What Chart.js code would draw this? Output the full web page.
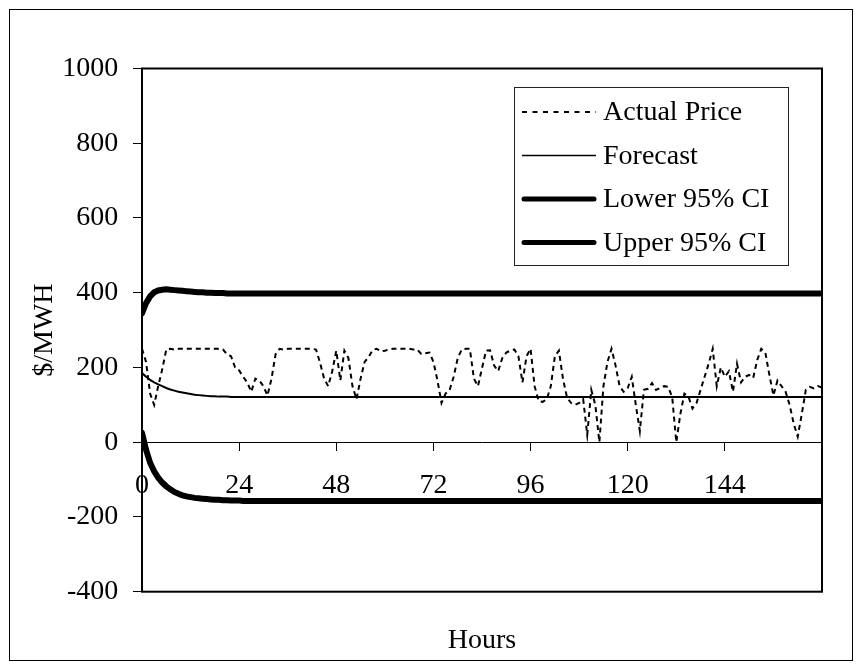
<!DOCTYPE html>
<html><head><meta charset="utf-8">
<script src="https://cdn.jsdelivr.net/npm/chart.js@4.4.0/dist/chart.umd.min.js"></script>
<style>html,body{margin:0;padding:0;background:#fff;}canvas{display:block;}</style>
</head><body>
<canvas id="c" width="862" height="670"></canvas>
<script>
const hours = Array.from({length: 169}, (_, i) => i);
const xTicks = [0, 24, 48, 72, 96, 120, 144];
const yTicks = [-400, -200, 0, 200, 400, 600, 800, 1000];
const seriesNames = ['Actual Price', 'Forecast', 'Lower 95% CI', 'Upper 95% CI'];

const actualPrice = [
250,215,130,100,150,195,248,250,248,250,250,250,
250,250,250,250,250,250,250,250,248,235,230,200,
192,175,160,135,170,165,150,125,170,235,250,248,
250,250,250,250,250,250,250,248,212,170,150,190,
245,165,245,225,150,115,170,215,228,247,250,243,
245,248,250,250,250,250,250,248,248,236,238,240,
215,165,105,130,140,175,225,248,250,250,170,150,
198,245,246,205,190,225,240,245,248,230,160,230,
250,150,110,108,115,150,230,245,170,120,105,100,
105,115,20,140,100,0,150,215,250,205,150,135,
145,175,100,30,140,143,158,140,145,150,148,120,
0,75,130,122,90,105,140,175,210,250,150,200,
175,190,135,210,160,175,180,172,220,250,240,180,
125,165,150,135,100,50,15,75,140,148,144,150,
146];

const forecast = [
185,175,167,160,155,150,145,141,138,135,133,131,
129,127,126,125,124,123,123,122,122,122,121,121,
121,121,121,121,121,121,121,121,121,121,121,121,
121,121,121,121,121,121,121,121,121,121,121,121,
121,121,121,121,121,121,121,121,121,121,121,121,
121,121,121,121,121,121,121,121,121,121,121,121,
121,121,121,121,121,121,121,121,121,121,121,121,
121,121,121,121,121,121,121,121,121,121,121,121,
121,121,121,121,121,121,121,121,121,121,121,121,
121,121,121,121,121,121,121,121,121,121,121,121,
121,121,121,121,121,121,121,121,121,121,121,121,
121,121,121,121,121,121,121,121,121,121,121,121,
121,121,121,121,121,121,121,121,121,121,121,121,
121,121,121,121,121,121,121,121,121,121,121,121,
121];

const lowerCI = [
25,-20,-55,-78,-95,-108,-118,-126,-133,-138,-142,-145,
-147,-149,-150,-151,-152,-153,-154,-154,-155,-155,-156,-156,
-156,-157,-157,-157,-157,-157,-157,-157,-157,-157,-157,-157,
-157,-157,-157,-157,-157,-157,-157,-157,-157,-157,-157,-157,
-157,-157,-157,-157,-157,-157,-157,-157,-157,-157,-157,-157,
-157,-157,-157,-157,-157,-157,-157,-157,-157,-157,-157,-157,
-157,-157,-157,-157,-157,-157,-157,-157,-157,-157,-157,-157,
-157,-157,-157,-157,-157,-157,-157,-157,-157,-157,-157,-157,
-157,-157,-157,-157,-157,-157,-157,-157,-157,-157,-157,-157,
-157,-157,-157,-157,-157,-157,-157,-157,-157,-157,-157,-157,
-157,-157,-157,-157,-157,-157,-157,-157,-157,-157,-157,-157,
-157,-157,-157,-157,-157,-157,-157,-157,-157,-157,-157,-157,
-157,-157,-157,-157,-157,-157,-157,-157,-157,-157,-157,-157,
-157,-157,-157,-157,-157,-157,-157,-157,-157,-157,-157,-157,
-157];

const upperCI = [
345,372,390,401,406,408,409,408,407,406,405,404,
403,402,401,401,400,400,399,399,399,398,398,398,
398,398,398,398,398,398,398,398,398,398,398,398,
398,398,398,398,398,398,398,398,398,398,398,398,
398,398,398,398,398,398,398,398,398,398,398,398,
398,398,398,398,398,398,398,398,398,398,398,398,
398,398,398,398,398,398,398,398,398,398,398,398,
398,398,398,398,398,398,398,398,398,398,398,398,
398,398,398,398,398,398,398,398,398,398,398,398,
398,398,398,398,398,398,398,398,398,398,398,398,
398,398,398,398,398,398,398,398,398,398,398,398,
398,398,398,398,398,398,398,398,398,398,398,398,
398,398,398,398,398,398,398,398,398,398,398,398,
398,398,398,398,398,398,398,398,398,398,398,398,
398];

const FONT = "'Liberation Serif', 'Times New Roman', serif";
Chart.defaults.font.family = FONT;
Chart.defaults.color = '#000';

const framePlugin = {
  id: 'frame',
  beforeDraw(chart) {
    const ctx = chart.ctx;
    ctx.save();
    ctx.fillStyle = '#fff';
    ctx.fillRect(0, 0, chart.width, chart.height);
    ctx.strokeStyle = '#000';
    ctx.lineWidth = 1;
    ctx.strokeRect(9.5, 9.5, 843, 651);
    ctx.restore();
  },
  afterDraw(chart) {
    const ctx = chart.ctx;
    const a = chart.chartArea;
    ctx.save();
    ctx.strokeStyle = '#000';
    ctx.lineWidth = 2;
    ctx.strokeRect(a.left, a.top, a.right - a.left, a.bottom - a.top);
    // legend
    const bx = 514.5, by = 87.5, bw = 274, bh = 178;
    ctx.fillStyle = '#fff';
    ctx.fillRect(bx, by, bw, bh);
    ctx.lineWidth = 1;
    ctx.strokeStyle = '#222';
    ctx.strokeRect(bx, by, bw, bh);
    const rows = [113, 156.5, 200, 243.5];
    chart.data.datasets.forEach((ds, i) => {
      const y = rows[i];
      ctx.save();
      ctx.strokeStyle = ds.borderColor;
      ctx.lineWidth = ds.legendWidth;
      ctx.setLineDash(ds.legendDash || []);
      ctx.lineCap = ds.legendWidth > 3 ? 'round' : 'butt';
      ctx.beginPath();
      const x0 = ds.legendWidth > 3 ? 524 : 522;
      const x1 = ds.legendWidth > 3 ? 594 : 596;
      ctx.moveTo(x0, y - 1);
      ctx.lineTo(x1, y - 1);
      ctx.stroke();
      ctx.restore();
      ctx.fillStyle = '#000';
      ctx.font = "28px " + FONT;
      ctx.textBaseline = 'middle';
      ctx.textAlign = 'left';
      ctx.fillText(ds.label, 603, y);
    });
    ctx.restore();
  }
};

new Chart(document.getElementById('c'), {
  type: 'line',
  data: {
    labels: hours,
    datasets: [
      { label: seriesNames[0], data: actualPrice, borderColor: '#000', borderWidth: 2, borderDash: [5, 4], legendDash: [5, 5.5], legendWidth: 2, pointRadius: 0, tension: 0, fill: false },
      { label: seriesNames[1], data: forecast, borderColor: '#000', borderWidth: 2, legendWidth: 1.5, pointRadius: 0, tension: 0, fill: false },
      { label: seriesNames[2], data: lowerCI, borderColor: '#000', borderWidth: 6, legendWidth: 5, pointRadius: 0, tension: 0, fill: false, borderCapStyle: 'round' },
      { label: seriesNames[3], data: upperCI, borderColor: '#000', borderWidth: 6, legendWidth: 5, pointRadius: 0, tension: 0, fill: false, borderCapStyle: 'round' }
    ]
  },
  options: {
    responsive: false,
    animation: false,
    devicePixelRatio: 1,
    layout: { padding: { left: 0, right: 40, top: 68.5, bottom: 0 } },
    plugins: { legend: { display: false }, tooltip: { enabled: false } },
    scales: {
      x: {
        type: 'linear', position: 'bottom', min: 0, max: 168,
        grid: { display: false }, border: { display: false },
        ticks: { display: false },
        title: { display: true, text: 'Hours', color: '#000', font: { size: 28, family: FONT }, padding: { top: 0, bottom: 12.7 } },
        afterFit(s) { s.height = 78.3; }
      },
      x2: {
        type: 'linear', position: { y: 0 }, min: 0, max: 168,
        afterBuildTicks(s) { s.ticks = xTicks.concat([168]).map(v => ({ value: v })); },
        ticks: { color: '#000', font: { size: 28, family: FONT }, padding: 18.5, maxRotation: 0, autoSkip: false,
          callback: (v) => (xTicks.includes(v) ? String(v) : '') },
        grid: { drawOnChartArea: false, drawTicks: true, tickLength: 8, color: '#000', lineWidth: 1 },
        border: { display: true, color: '#000', width: 1 }
      },
      y: {
        type: 'linear', position: 'left', min: -400, max: 1000,
        afterBuildTicks(s) { s.ticks = yTicks.map(v => ({ value: v })); },
        ticks: { color: '#000', font: { size: 28, family: FONT }, padding: 14.7, callback: (v) => String(v) },
        grid: { drawOnChartArea: false, drawTicks: true, tickLength: 9, color: '#000', lineWidth: 1 },
        border: { display: false },
        title: { display: true, text: '$/MWH', color: '#000', font: { size: 28, family: FONT }, padding: { top: 27.8, bottom: 0 } },
        afterFit(s) { s.width = 142; }
      }
    }
  },
  plugins: [framePlugin]
});
</script>
</body></html>
